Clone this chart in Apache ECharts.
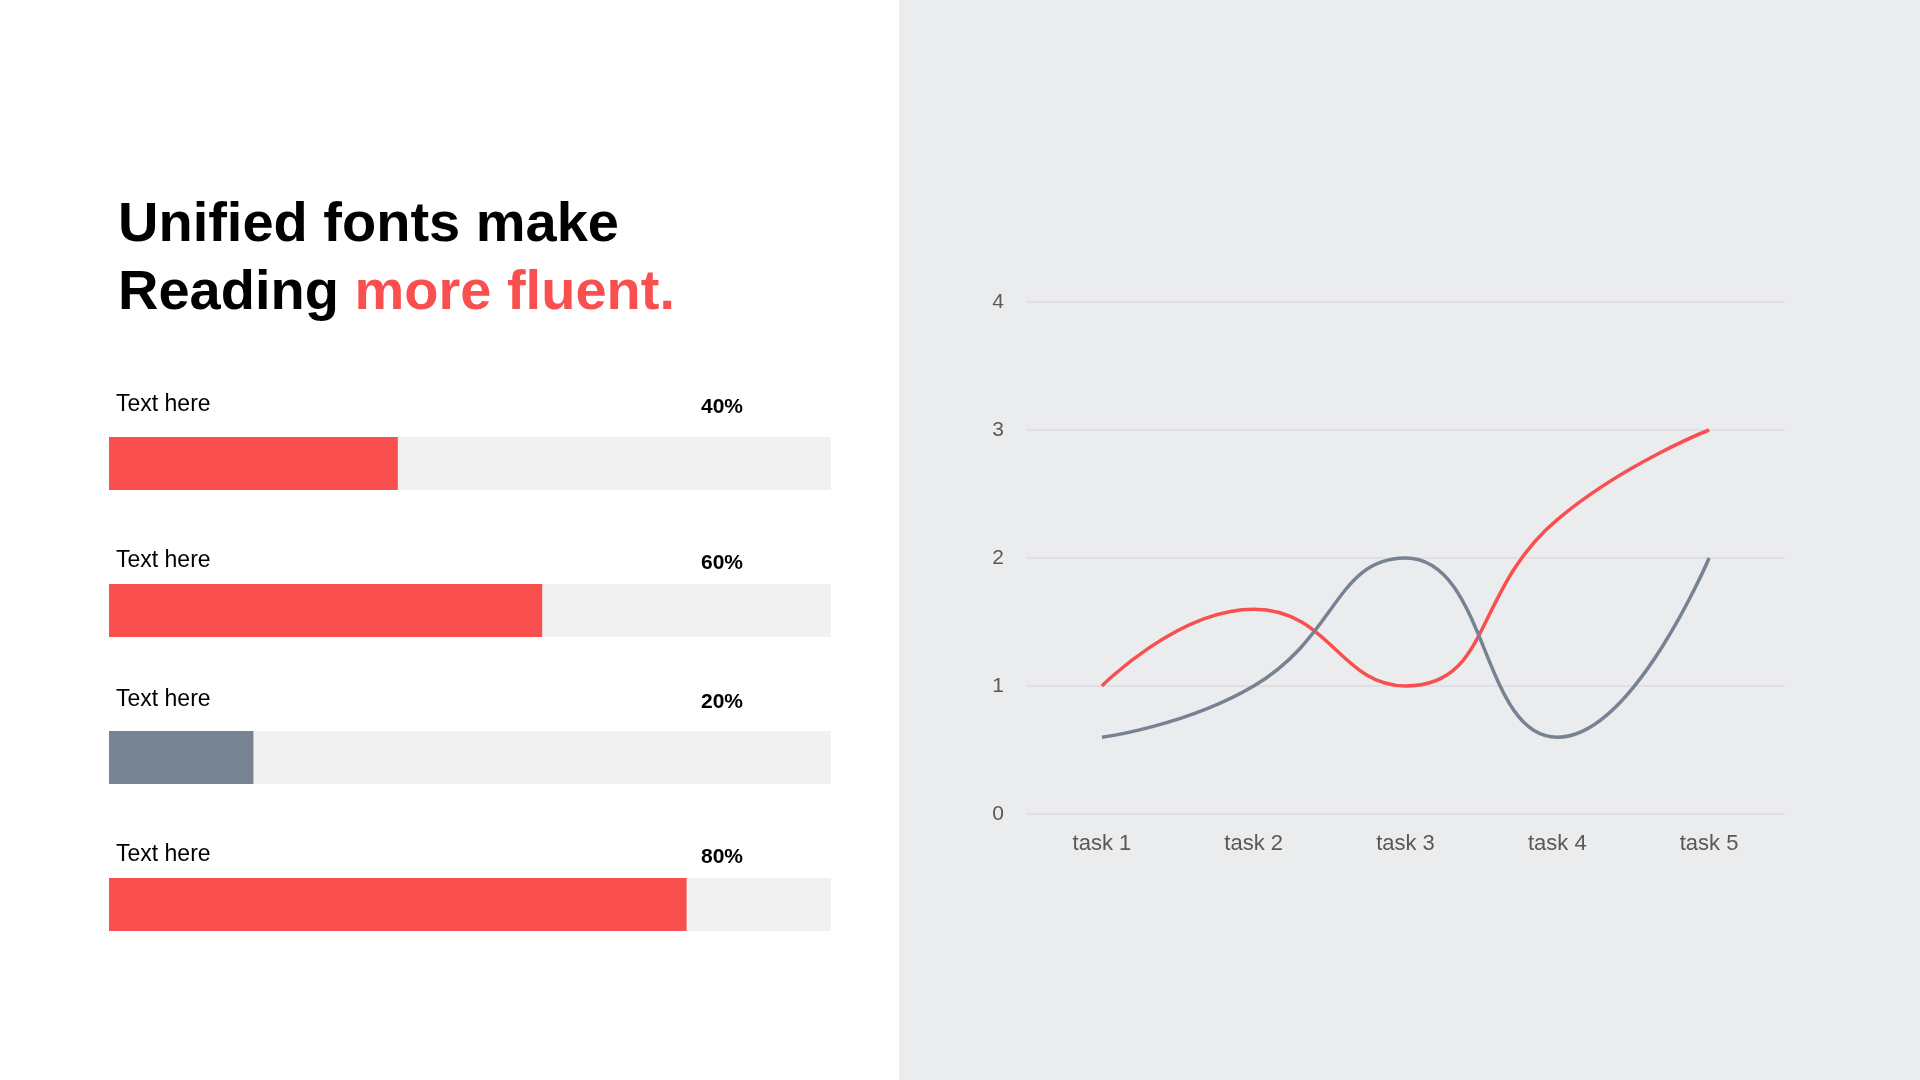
<!DOCTYPE html>
<html>
<head>
<meta charset="utf-8">
<script src="https://cdn.jsdelivr.net/npm/echarts@6/dist/echarts.min.js"></script>
<style>
html,body{margin:0;padding:0;background:#ffffff;}
#main{width:1920px;height:1080px;}
</style>
</head>
<body>
<div id="main"></div>
<script>
// ---- data ----
var barLabels = ['Text here', 'Text here', 'Text here', 'Text here'];
var barValues = [40, 60, 20, 80];
var barColors = ['#f94f4f', '#f94f4f', '#778393', '#f94f4f'];

var categories = ['task 1', 'task 2', 'task 3', 'task 4', 'task 5'];
var redSeries = [1, 1.6, 1, 2.3, 3];
var greySeries = [0.6, 1, 2, 0.6, 2];
var yTicks = [0, 1, 2, 3, 4];

var titleLine1 = 'Unified fonts make';
var titleLine2a = 'Reading ';
var titleLine2b = 'more fluent.';

var RED = '#f94f4f';
var GREY = '#778393';
var FONT = '"Liberation Sans", Arial, sans-serif';

var chart = echarts.init(document.getElementById('main'), null, {renderer: 'canvas'});

// label positions (y centers) for the progress bars
var labelY = [405, 561, 700, 855];
var pctY = [407, 563, 702, 857];

var graphics = [
  {type: 'rect', left: 899, top: 0, z: -10, shape: {width: 1021, height: 1080}, style: {fill: '#ebecee'}},
  {type: 'text', left: 118, top: 198, style: {text: titleLine1, font: 'bold 56px ' + FONT, fill: '#000000'}},
  {type: 'text', left: 118, top: 266, style: {
    text: '{a|' + titleLine2a + '}{b|' + titleLine2b + '}',
    rich: {
      a: {font: 'bold 56px ' + FONT, fill: '#000000', color: '#000000'},
      b: {font: 'bold 56px ' + FONT, fill: RED, color: RED}
    }
  }}
];
barLabels.forEach(function (t, i) {
  graphics.push({type: 'text', x: 116, y: labelY[i], style: {text: t, font: '23px ' + FONT, fill: '#000000', textVerticalAlign: 'middle', verticalAlign: 'middle'}});
  graphics.push({type: 'text', x: 722, y: pctY[i], style: {text: barValues[i] + '%', font: 'bold 21px ' + FONT, fill: '#000000', align: 'center', textAlign: 'center', verticalAlign: 'middle', textVerticalAlign: 'middle'}});
});

var option = {
  animation: false,
  backgroundColor: '#ffffff',
  graphic: graphics,
  grid: [
    {left: 109, top: 390, width: 722, height: 588, containLabel: false},
    {left: 1026, top: 302, width: 759, height: 512, containLabel: false}
  ],
  xAxis: [
    {gridIndex: 0, type: 'value', min: 0, max: 100, show: false},
    {gridIndex: 1, type: 'category', data: categories, boundaryGap: true,
      axisLine: {show: false}, axisTick: {show: false},
      axisLabel: {color: '#595959', fontSize: 22, fontFamily: FONT, margin: 19}}
  ],
  yAxis: [
    {gridIndex: 0, type: 'category', data: barLabels.map(function (t, i) { return t + i; }), inverse: true, show: false},
    {gridIndex: 1, type: 'value', min: 0, max: 4, interval: 1,
      axisLine: {show: false}, axisTick: {show: false},
      splitLine: {show: true, lineStyle: {color: '#dcdde0', width: 1.5}},
      axisLabel: {color: '#595959', fontSize: 21, fontFamily: FONT, margin: 22,
        formatter: function (v) { return yTicks.indexOf(v) >= 0 ? String(v) : ''; }}}
  ],
  series: [
    {type: 'bar', xAxisIndex: 0, yAxisIndex: 0, barWidth: 53,
      showBackground: true, backgroundStyle: {color: '#f1f1f1'},
      data: barValues.map(function (v, i) { return {value: v, itemStyle: {color: barColors[i]}}; }),
      silent: true},
    {type: 'line', xAxisIndex: 1, yAxisIndex: 1, data: redSeries, smooth: true,
      showSymbol: false, symbol: 'none', lineStyle: {color: RED, width: 3.5}, itemStyle: {color: RED}},
    {type: 'line', xAxisIndex: 1, yAxisIndex: 1, data: greySeries, smooth: true,
      showSymbol: false, symbol: 'none', lineStyle: {color: GREY, width: 3.5}, itemStyle: {color: GREY}}
  ]
};
chart.setOption(option);
</script>
</body>
</html>
